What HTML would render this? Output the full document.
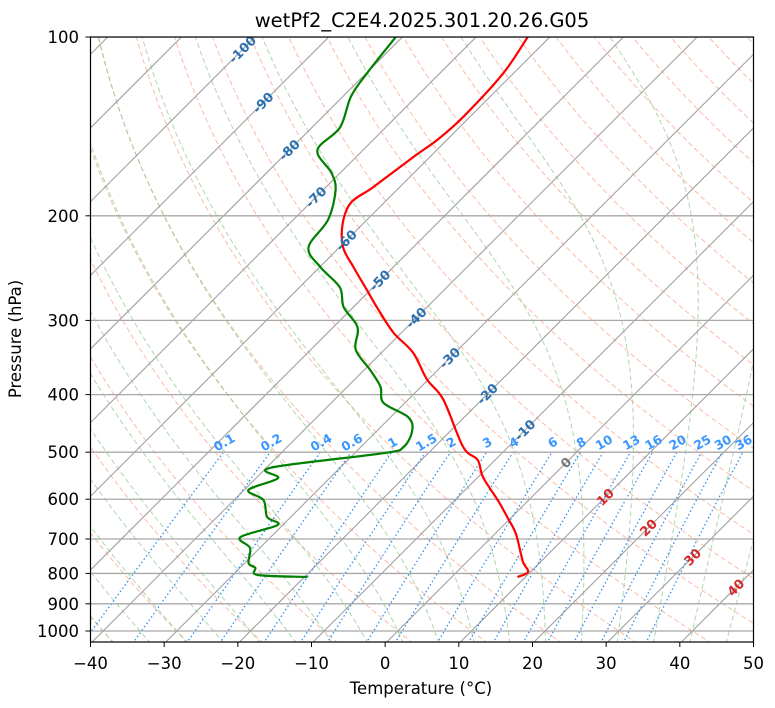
<!DOCTYPE html>
<html><head><meta charset="utf-8"><style>
html,body{margin:0;padding:0;background:#fff;}
svg{display:block;font-family:"DejaVu Sans","Liberation Sans",sans-serif;}
</style></head><body>
<svg id="chart" width="775" height="708" viewBox="0 0 775 708" xmlns="http://www.w3.org/2000/svg">
<defs><clipPath id="clip"><rect x="90.5" y="37" width="663" height="605"/></clipPath></defs>
<text x="422" y="27" font-size="19.5" text-anchor="middle">wetPf2_C2E4.2025.301.20.26.G05</text>
<g id="bg" clip-path="url(#clip)"></g>
<g id="grid" clip-path="url(#clip)"></g>
<g id="prof" clip-path="url(#clip)"></g>
<g id="labels" clip-path="url(#clip)"></g>
<rect x="90.5" y="37" width="663" height="605" fill="none" stroke="#000" stroke-width="1.2"/>
<g id="axes"></g>
<text x="421" y="694" font-size="16.5" text-anchor="middle">Temperature (°C)</text>
<text x="21" y="339" font-size="16.5" text-anchor="middle" transform="rotate(-90 21 339)">Pressure (hPa)</text>
</svg>
<script>
// ---- data ----
const tempP = [100,115,136,149,159,179,190,206,226,244,267,286,315,340,377,408,490,515,551,602,643,684,739,768,796,811];
const tempT = [-63.0,-61.4,-60.9,-61.3,-62.2,-63.6,-64.5,-62.8,-59.5,-55.4,-50.4,-46.6,-41.0,-35.7,-30.2,-25.2,-16.1,-12.4,-9.3,-4.2,-0.6,2.7,6.1,7.8,9.7,8.9];
const dewP = [100,115,126,142,155,169,181,203,226,244,264,285,308,336,364,388,413,436,459,490,502,531,553,579,602,643,663,695,725,768,783,805,811];
const dewT = [-80.9,-79.9,-78.9,-76.2,-76.2,-71.3,-68.3,-65.3,-64.2,-59.9,-54.5,-51.3,-46.7,-43.9,-39.1,-35.5,-32.9,-27.7,-25.3,-24.2,-26.1,-39.4,-37.0,-39.4,-36.0,-33.2,-30.7,-34.1,-31.3,-29.5,-27.9,-26.6,-19.6];
const xTicks = [-40,-30,-20,-10,0,10,20,30,40,50];
const pTicks = [100,200,300,400,500,600,700,800,900,1000];
const mixRatios = [0.1,0.2,0.4,0.6,1,1.5,2,3,4,6,8,10,13,16,20,25,30,36];
const isoLabelT = [-100,-90,-80,-70,-60,-50,-40,-30,-20,-10,0,10,20,30,40];
const isoLabelP = [105,129,155,186,220,257,297,347,399,459,521,595,670,751,845];

// ---- axes ----
const X0=90.5, X1=753.5, YB=643.6, PX=663/90, DEC=594;
function yOf(p){return 37+DEC*Math.log10(p/100);}
function xOf(T,p){return X0+(T+40)*PX+(YB-yOf(p));}
const NS="http://www.w3.org/2000/svg";
function mk(tag,attrs,parent){const e=document.createElementNS(NS,tag);for(const k in attrs)e.setAttribute(k,attrs[k]);parent.appendChild(e);return e;}
const bg=document.getElementById('bg'),grid=document.getElementById('grid'),prof=document.getElementById('prof'),lab=document.getElementById('labels'),axes=document.getElementById('axes');
function pathFrom(pts){return pts.map((q,i)=>(i?'L':'M')+q[0].toFixed(1)+' '+q[1].toFixed(1)).join(' ');}
function smoothPath(pts){
  let d='M'+pts[0][0].toFixed(1)+' '+pts[0][1].toFixed(1);
  for(let i=0;i<pts.length-1;i++){
    const p0=pts[Math.max(0,i-1)],p1=pts[i],p2=pts[i+1],p3=pts[Math.min(pts.length-1,i+2)];
    const c1=[p1[0]+(p2[0]-p0[0])/6,p1[1]+(p2[1]-p0[1])/6];
    const c2=[p2[0]-(p3[0]-p1[0])/6,p2[1]-(p3[1]-p1[1])/6];
    d+=` C${c1[0].toFixed(1)} ${c1[1].toFixed(1)} ${c2[0].toFixed(1)} ${c2[1].toFixed(1)} ${p2[0].toFixed(1)} ${p2[1].toFixed(1)}`;
  }
  return d;
}
const pLevels=[];for(let p=1050;p>=95;p-=5)pLevels.push(p);

// dry adiabats
for(let t0=-40;t0<=200;t0+=10){
  const th=t0+273.15;
  const pts=pLevels.map(p=>[xOf(th*Math.pow(p/1000,0.2857)-273.15,p),yOf(p)]);
  const e=mk('path',{d:pathFrom(pts),fill:'none',stroke:'#f7a58a','stroke-width':1,'stroke-dasharray':'5,3',opacity:0.75},bg);
  
  
}
// moist adiabats
function dTdp(T,p){const Tc=T-273.15;const es=6.112*Math.exp(17.67*Tc/(Tc+243.5));const rs=0.622*es/(p-es);
  return (287.04*T+2.501e6*rs)/(p*(1005.7+2.501e6*2.501e6*rs*0.622/(287.04*T*T)));}
for(let t0=-40;t0<=50;t0+=5){
  const up=[],T0=t0+273.15;let T=T0;
  for(let p=1000;p>=95;p-=1){ if(p%5===0)up.push([xOf(T-273.15,p),yOf(p)]); T-=dTdp(T,p)*1; }
  T=T0;const dn=[];for(let p=1000;p<=1050;p+=1){ if(p%5===0)dn.push([xOf(T-273.15,p),yOf(p)]); T+=dTdp(T,p); }
  const pts=dn.reverse().concat(up);
  const e=mk('path',{d:pathFrom(pts),fill:'none',stroke:'#8fcb8f','stroke-width':1,'stroke-dasharray':'5,3',opacity:0.75},bg);
  
  
}
// isotherms
for(let T=-200;T<=50;T+=10){
  const e=mk('line',{x1:xOf(T,1050),y1:yOf(1050),x2:xOf(T,100),y2:yOf(100),stroke:'#a0a0a0','stroke-width':1.1},bg);
  
  
}
// mixing ratio lines
mixRatios.forEach(w=>{
  const pts=[];for(let p=1050;p>=500;p-=10){const e=w*p/(622+w);const l=Math.log(e/6.112);const td=243.5*l/(17.67-l);pts.push([xOf(td,p),yOf(p)]);}
  const e=mk('path',{d:pathFrom(pts),fill:'none',stroke:'#2f8ff5','stroke-width':1.3,'stroke-dasharray':'1.5,2.5'},bg);
  
  
  const last=pts[pts.length-1];
  const t=mk('text',{x:last[0]+3,y:last[1]-6,'font-size':12.5,'font-weight':'bold',fill:'#3a97ff','text-anchor':'middle',transform:`rotate(-30 ${last[0]+3} ${last[1]-6})`},lab);
  t.textContent=w;
  
  
});
// pressure gridlines
pTicks.forEach(p=>{
  const e=mk('line',{x1:X0,y1:yOf(p),x2:X1,y2:yOf(p),stroke:'#a8a8a8','stroke-width':1.3},grid);
  
  
});
// isotherm labels
isoLabelT.forEach((T,i)=>{
  const x=xOf(T,isoLabelP[i]),y=yOf(isoLabelP[i]);
  const col=T<0?'#2a6fb0':(T===0?'#777':'#d62728');
  const t=mk('text',{x:x,y:y+4.5,'font-size':13,'font-weight':'bold',fill:col,'text-anchor':'middle',transform:`rotate(-45 ${x} ${y})`},lab);
  t.textContent=T;
  
  
});
// profiles
const tp=tempP.map((p,i)=>[xOf(tempT[i],p),yOf(p)]);
const tl=mk('path',{d:smoothPath(tp),fill:'none',stroke:'#ff0000','stroke-width':2.2,'stroke-linejoin':'round'},prof);


const dp=dewP.map((p,i)=>[xOf(dewT[i],p),yOf(p)]);
const dl=mk('path',{d:smoothPath(dp),fill:'none',stroke:'#008000','stroke-width':2.2,'stroke-linejoin':'round'},prof);


// ticks
xTicks.forEach(T=>{
  const x=X0+(T+40)*PX;
  const tk=mk('line',{x1:x,y1:642,x2:x,y2:647,stroke:'#000'},axes);
  
  
  const t=mk('text',{x:x,y:669,'font-size':16.5,'text-anchor':'middle'},axes);
  t.textContent=(T<0?'\u2212'+(-T):T);
  
  
});
pTicks.forEach(p=>{
  const y=yOf(p);
  const tk=mk('line',{x1:85.5,y1:y,x2:90.5,y2:y,stroke:'#000'},axes);
  
  
  const t=mk('text',{x:79,y:y+6,'font-size':16.5,'text-anchor':'end'},axes);
  t.textContent=p;
  
  
});
</script>
</body></html>
